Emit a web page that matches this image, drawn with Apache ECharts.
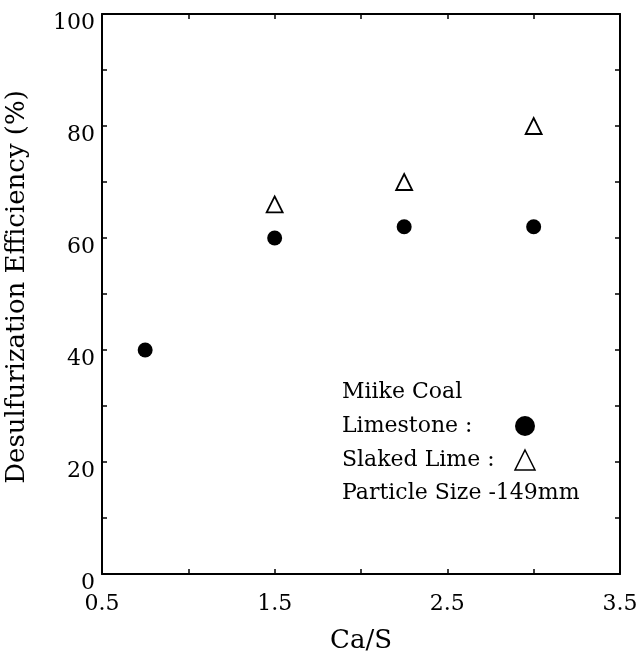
<!DOCTYPE html>
<html>
<head>
<meta charset="utf-8">
<script src="https://cdn.jsdelivr.net/npm/echarts@6/dist/echarts.min.js"></script>
<style>
	html, body { margin: 0; padding: 0; background: #fff; }
	#chart { width: 636px; height: 652px; }
</style>
</head>
<body>
<div id="chart"></div>
<script>
// Ca/S ratio and desulfurization efficiency (%)
let limestoneX = [0.75, 1.5, 2.25, 3.0]
let limestoneY = [40, 60, 62, 62]
let slakedX = [1.5, 2.25, 3.0]
let slakedY = [66, 70, 80]
let xLabels = [0.5, 1.5, 2.5, 3.5]
let yLabels = [0, 20, 40, 60, 80, 100]

let font = '"DejaVu Serif", "Liberation Serif", serif'
let ink = '#000'

let pairs = (xs, ys) => xs.map((x, i) => [x, ys[i]])

let frameAxis = (opt) => Object.assign({
	type: 'value',
	axisLine: { show: true, onZero: false, lineStyle: { color: ink, width: 2 } },
	axisTick: { show: true, inside: true, length: 5, lineStyle: { color: ink, width: 1.5 } },
	splitLine: { show: false },
	axisLabel: { show: false }
}, opt)

let chart = echarts.init(document.getElementById('chart'))

chart.setOption({
	animation: false,
	backgroundColor: '#fff',
	grid: { left: 102, right: 16, top: 14, bottom: 78, outerBoundsMode: 'none', containLabel: false },
	xAxis: [
		frameAxis({
			min: 0.5, max: 3.5, interval: 0.5,
			name: 'Ca/S',
			nameLocation: 'middle',
			nameGap: 54,
			nameTextStyle: { fontFamily: font, fontSize: 26, color: ink },
			axisLabel: {
				show: true,
				margin: 19,
				fontFamily: font,
				fontSize: 22,
				color: ink,
				formatter: (v) => xLabels.includes(v) ? v.toFixed(1) : ''
			}
		}),
		frameAxis({ position: 'top', min: 0.5, max: 3.5, interval: 0.5 })
	],
	yAxis: [
		frameAxis({
			min: 0, max: 100, interval: 10,
			name: 'Desulfurization Efficiency (%)',
			nameLocation: 'middle',
			nameGap: 72,
			nameTextStyle: { fontFamily: font, fontSize: 26, color: ink, padding: [0, 0, 0, 14] },
			axisLabel: {
				show: true,
				margin: 7,
				fontFamily: font,
				fontSize: 22,
				color: ink,
				verticalAlign: 'top',
				lineHeight: 18,
				formatter: (v) => yLabels.includes(v) ? String(v) : ''
			}
		}),
		frameAxis({ position: 'right', min: 0, max: 100, interval: 10 })
	],
	legend: {
		orient: 'vertical',
		left: 342,
		top: 415,
		padding: 0,
		align: 'right',
		itemGap: 12,
		itemWidth: 20,
		itemHeight: 20,
		textStyle: {
			fontFamily: font, fontSize: 22, color: ink, lineHeight: 20,
			rich: { t: { fontFamily: font, fontSize: 22, color: ink, width: 168, lineHeight: 20, align: 'left' } }
		},
		formatter: (name) => '{t|' + name + ' :}',
		data: [
			{ name: 'Limestone', icon: 'circle', itemStyle: { color: ink, opacity: 1 } },
			{ name: 'Slaked Lime', icon: 'triangle', itemStyle: { color: '#fff', borderColor: ink, borderWidth: 1.5 } }
		]
	},
	graphic: [
		{
			type: 'text', left: 342, top: 381,
			style: { text: 'Miike Coal', font: '22px ' + font, fill: ink }
		},
		{
			type: 'text', left: 342, top: 482,
			style: { text: 'Particle Size -149mm', font: '22px ' + font, fill: ink }
		}
	],
	series: [
		{
			name: 'Limestone',
			type: 'scatter',
			symbol: 'circle',
			symbolSize: 15,
			itemStyle: { color: ink, opacity: 1 },
			data: pairs(limestoneX, limestoneY)
		},
		{
			name: 'Slaked Lime',
			type: 'scatter',
			symbol: 'triangle',
			symbolSize: 16,
			itemStyle: { color: '#fff', borderColor: ink, borderWidth: 1.8, opacity: 1 },
			data: pairs(slakedX, slakedY)
		}
	]
})
</script>
</body>
</html>
